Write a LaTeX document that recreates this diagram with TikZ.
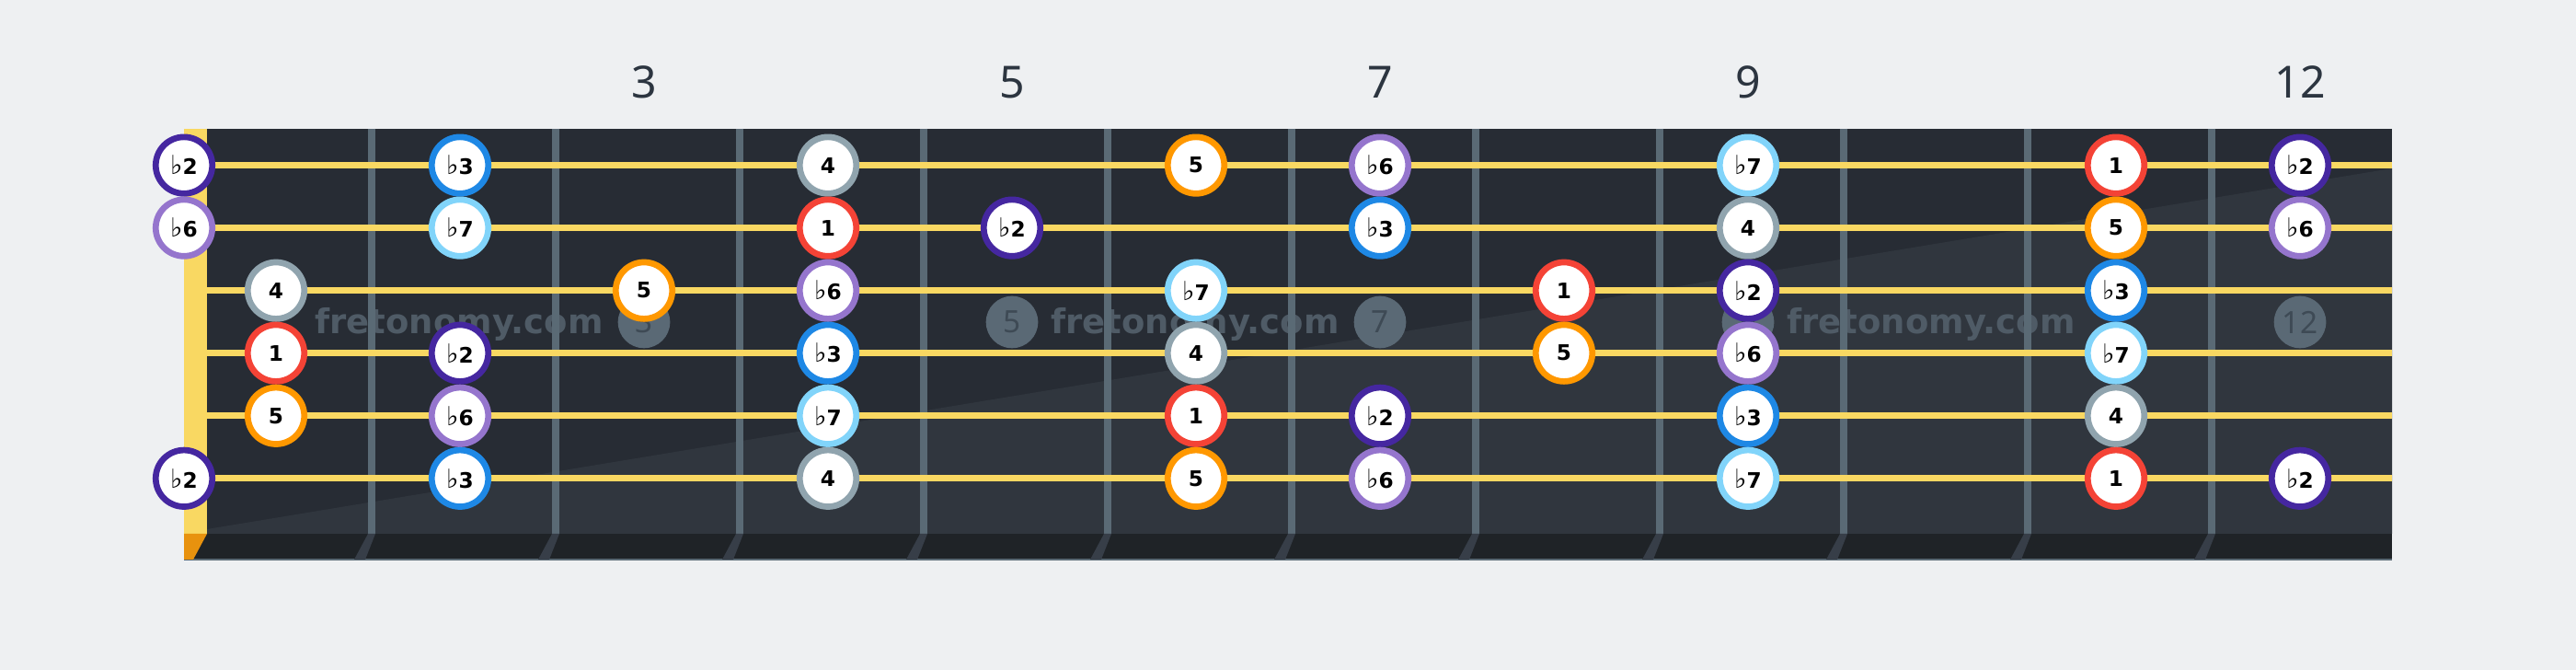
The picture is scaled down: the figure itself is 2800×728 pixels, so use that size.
\documentclass[tikz,border=0pt]{standalone}
\usepackage{fontspec}
\setmainfont{Noto Sans}
\newfontfamily\flatfont{DejaVu Sans}
\newfontfamily\notefont{DejaVu Sans}
\usepackage{tikz}
\definecolor{bgcol}{HTML}{EEF0F2}
\definecolor{boarddark}{HTML}{272C34}
\definecolor{boardlight}{HTML}{30363E}
\definecolor{boardfoot}{HTML}{1F2327}
\definecolor{fretcol}{HTML}{5A6A75}
\definecolor{fretfootcol}{HTML}{373E48}
\definecolor{nutcol}{HTML}{F9D862}
\definecolor{nutfootcol}{HTML}{E8920E}
\definecolor{markcol}{HTML}{5A6975}
\definecolor{marktext}{HTML}{3E4A55}
\definecolor{wmcol}{HTML}{4F5B66}
\definecolor{numcol}{HTML}{2C3540}
\definecolor{degroot}{HTML}{F44336}
\definecolor{degb2}{HTML}{4527A0}
\definecolor{degb3}{HTML}{1E88E5}
\definecolor{degfour}{HTML}{90A4AE}
\definecolor{degfive}{HTML}{FF9800}
\definecolor{degb6}{HTML}{9575CD}
\definecolor{degb7}{HTML}{81D4FA}
\newcommand{\flt}[1]{{\flatfont\mdseries\fontsize{8.1}{8}\selectfont ♭}#1}
\tikzstyle{note} = [circle, minimum size=0.614cm, inner sep=0pt, draw, fill=white, line width=0.067cm, text=black, font=\notefont\fontsize{6.6}{8}\selectfont\bfseries]
\tikzstyle{noteroot} = [note, draw=degroot]
\tikzstyle{noteb2} = [note, draw=degb2]
\tikzstyle{noteb3} = [note, draw=degb3]
\tikzstyle{notefour} = [note, draw=degfour]
\tikzstyle{notefive} = [note, draw=degfive]
\tikzstyle{noteb6} = [note, draw=degb6]
\tikzstyle{noteb7} = [note, draw=degb7]
\tikzstyle{marker} = [circle, minimum size=0.566cm, inner sep=0pt, fill=markcol, text=marktext, font=\fontsize{9.5}{11}\selectfont]
\tikzstyle{fretnum} = [anchor=base, text=numcol, font=\fontsize{13.7}{16}\selectfont]
\tikzstyle{watermark} = [anchor=base, text=wmcol, font=\notefont\fontsize{10.5}{13}\selectfont\bfseries]
\tikzstyle{fretline} = [line width=0.08cm, fretcol]
\tikzstyle{stringline} = [line width=0.072cm, nutcol]

\begin{document}
\begin{tikzpicture}[x=0.01cm, y=-0.01cm]
        \path [use as bounding box, fill=bgcol] (0,0) rectangle (2800,728);
        % board
        \fill [boarddark] (200,140) rectangle (2600,580);
        \fill [boardlight] (225,575) -- (2600,183) -- (2600,580) -- (225,580) -- cycle;
        \fill [boardfoot] (200,580) rectangle (2600,608);
        \draw [line width=0.02cm, fretcol] (200,608) -- (2600,608);

        % inlay markers and watermark
        \node (mark3) [marker] at (700,350) {3};
        \node (mark5) [marker] at (1100,350) {5};
        \node (mark7) [marker] at (1500,350) {7};
        \node (mark9) [marker] at (1900,350) {9};
        \node (mark12) [marker] at (2500,350) {12};
        \node (wm1) [watermark] at (499,362.7) {fretonomy.com};
        \node (wm2) [watermark] at (1299,362.7) {fretonomy.com};
        \node (wm3) [watermark] at (2099,362.7) {fretonomy.com};

        % frets, nut and strings
        \foreach \x in {404,604,...,2404}
        {
            \draw [fretline] (\x,140) -- (\x,580);
            \fill [fretfootcol] (\x-4,580) -- (\x+4,580) -- (\x-7,608) -- (\x-19,608) -- cycle;
        }
        \fill [nutcol] (200,140) rectangle (225,580);
        \fill [nutfootcol] (200,580) -- (225,580) -- (210,608) -- (200,608) -- cycle;
        \foreach \y in {179.6,247.6,315.7,383.7,451.8,519.8}
            \draw [stringline] (225,\y) -- (2600,\y);

        % fret numbers
        \node (num3) [fretnum] at (700,107) {3};
        \node (num5) [fretnum] at (1100,107) {5};
        \node (num7) [fretnum] at (1500,107) {7};
        \node (num9) [fretnum] at (1900,107) {9};
        \node (num12) [fretnum] at (2500,107) {12};

        % string 1
        \node (s1f0) [noteb2] at (200,179.6) {\flt{2}};
        \node (s1f2) [noteb3] at (500,179.6) {\flt{3}};
        \node (s1f4) [notefour] at (900,179.6) {4};
        \node (s1f6) [notefive] at (1300,179.6) {5};
        \node (s1f7) [noteb6] at (1500,179.6) {\flt{6}};
        \node (s1f9) [noteb7] at (1900,179.6) {\flt{7}};
        \node (s1f11) [noteroot] at (2300,179.6) {1};
        \node (s1f12) [noteb2] at (2500,179.6) {\flt{2}};
        % string 2
        \node (s2f0) [noteb6] at (200,247.6) {\flt{6}};
        \node (s2f2) [noteb7] at (500,247.6) {\flt{7}};
        \node (s2f4) [noteroot] at (900,247.6) {1};
        \node (s2f5) [noteb2] at (1100,247.6) {\flt{2}};
        \node (s2f7) [noteb3] at (1500,247.6) {\flt{3}};
        \node (s2f9) [notefour] at (1900,247.6) {4};
        \node (s2f11) [notefive] at (2300,247.6) {5};
        \node (s2f12) [noteb6] at (2500,247.6) {\flt{6}};
        % string 3
        \node (s3f1) [notefour] at (300,315.7) {4};
        \node (s3f3) [notefive] at (700,315.7) {5};
        \node (s3f4) [noteb6] at (900,315.7) {\flt{6}};
        \node (s3f6) [noteb7] at (1300,315.7) {\flt{7}};
        \node (s3f8) [noteroot] at (1700,315.7) {1};
        \node (s3f9) [noteb2] at (1900,315.7) {\flt{2}};
        \node (s3f11) [noteb3] at (2300,315.7) {\flt{3}};
        % string 4
        \node (s4f1) [noteroot] at (300,383.7) {1};
        \node (s4f2) [noteb2] at (500,383.7) {\flt{2}};
        \node (s4f4) [noteb3] at (900,383.7) {\flt{3}};
        \node (s4f6) [notefour] at (1300,383.7) {4};
        \node (s4f8) [notefive] at (1700,383.7) {5};
        \node (s4f9) [noteb6] at (1900,383.7) {\flt{6}};
        \node (s4f11) [noteb7] at (2300,383.7) {\flt{7}};
        % string 5
        \node (s5f1) [notefive] at (300,451.8) {5};
        \node (s5f2) [noteb6] at (500,451.8) {\flt{6}};
        \node (s5f4) [noteb7] at (900,451.8) {\flt{7}};
        \node (s5f6) [noteroot] at (1300,451.8) {1};
        \node (s5f7) [noteb2] at (1500,451.8) {\flt{2}};
        \node (s5f9) [noteb3] at (1900,451.8) {\flt{3}};
        \node (s5f11) [notefour] at (2300,451.8) {4};
        % string 6
        \node (s6f0) [noteb2] at (200,519.8) {\flt{2}};
        \node (s6f2) [noteb3] at (500,519.8) {\flt{3}};
        \node (s6f4) [notefour] at (900,519.8) {4};
        \node (s6f6) [notefive] at (1300,519.8) {5};
        \node (s6f7) [noteb6] at (1500,519.8) {\flt{6}};
        \node (s6f9) [noteb7] at (1900,519.8) {\flt{7}};
        \node (s6f11) [noteroot] at (2300,519.8) {1};
        \node (s6f12) [noteb2] at (2500,519.8) {\flt{2}};
    \end{tikzpicture}
\end{document}
